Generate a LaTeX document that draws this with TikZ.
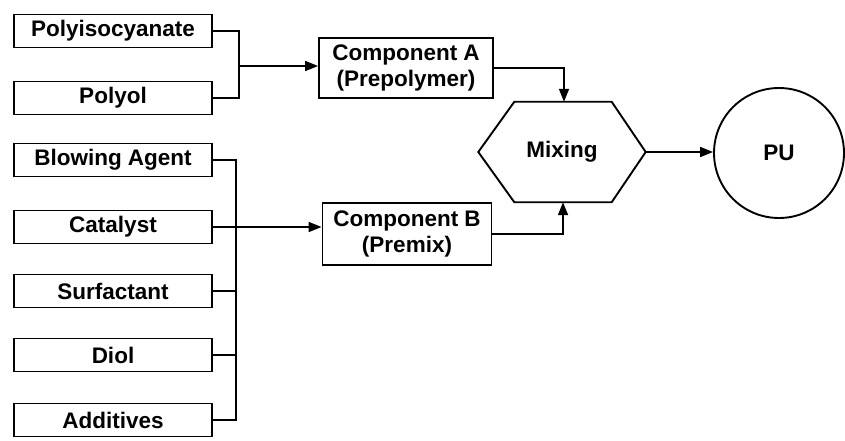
\documentclass[tikz,border=0pt]{standalone}
\usepackage{fontspec}
\setmainfont{Liberation Sans}
\usetikzlibrary{arrows.meta}
\begin{document}
\begin{tikzpicture}[x=1pt,y=-1pt,
  every node/.style={font=\bfseries\fontsize{22.5}{26}\selectfont, inner sep=0pt},
  ingredient/.style={draw, line width=1.9pt, minimum width=198pt, minimum height=33pt},
  component/.style={draw, line width=1.9pt, align=center},
  link/.style={line width=1.7pt},
  arr/.style={link, -{Triangle[length=13pt,width=10pt]}}]
\useasboundingbox (0,0) rectangle (845,441);

% raw materials
\node[ingredient] (pi) at (113,31)  {Polyisocyanate};
\node[ingredient] (po) at (113,98)  {Polyol};
\node[ingredient] (ba) at (113,160) {Blowing Agent};
\node[ingredient] (ca) at (113,227) {Catalyst};
\node[ingredient] (su) at (113,291) {Surfactant};
\node[ingredient] (di) at (113,355) {Diol};
\node[ingredient] (ad) at (113,420) {Additives};

% the two components
\node[component, minimum width=174pt, minimum height=60pt] (cA) at (406,68)
  {Component A\\(Prepolymer)};
\node[component, minimum width=169pt, minimum height=62pt] (cB) at (407,234)
  {Component B\\(Premix)};

% mixing step: hexagon drawn around an invisible box
\node[minimum width=167pt, minimum height=100pt] (mix) at (562,152) {Mixing};
\draw[line width=1.9pt, line join=miter]
  (mix.west) -- ([xshift=36pt]mix.north west) -- ([xshift=-34pt]mix.north east)
  -- (mix.east) -- ([xshift=-34pt]mix.south east) -- ([xshift=36pt]mix.south west)
  -- cycle;

% product
\node[draw, circle, line width=1.9pt, minimum size=130pt] (pu) at (779,153) {PU};

% component A feed
\coordinate (jA) at (239,66);
\draw[link] (pi.east) -| (jA) |- (po.east);
\draw[arr] (jA) -- (jA -| cA.west);

% component B feed
\coordinate (jB) at (236,227);
\draw[link] (ba.east) -| (jB) |- (ad.east);
\draw[link] (ca.east) -- (jB);
\draw[link] (su.east) -- (su.east -| jB);
\draw[link] (di.east) -- (di.east -| jB);
\draw[arr] (jB) -- (jB -| cB.west);

% into the mixer and out
\draw[arr] (cA.east) -| ([xshift=2pt]mix.north);
\draw[arr] (cB.east) -| ([xshift=1pt]mix.south);
\draw[arr] (mix.east) -- (mix.east -| pu.west);
\end{tikzpicture}
\end{document}
